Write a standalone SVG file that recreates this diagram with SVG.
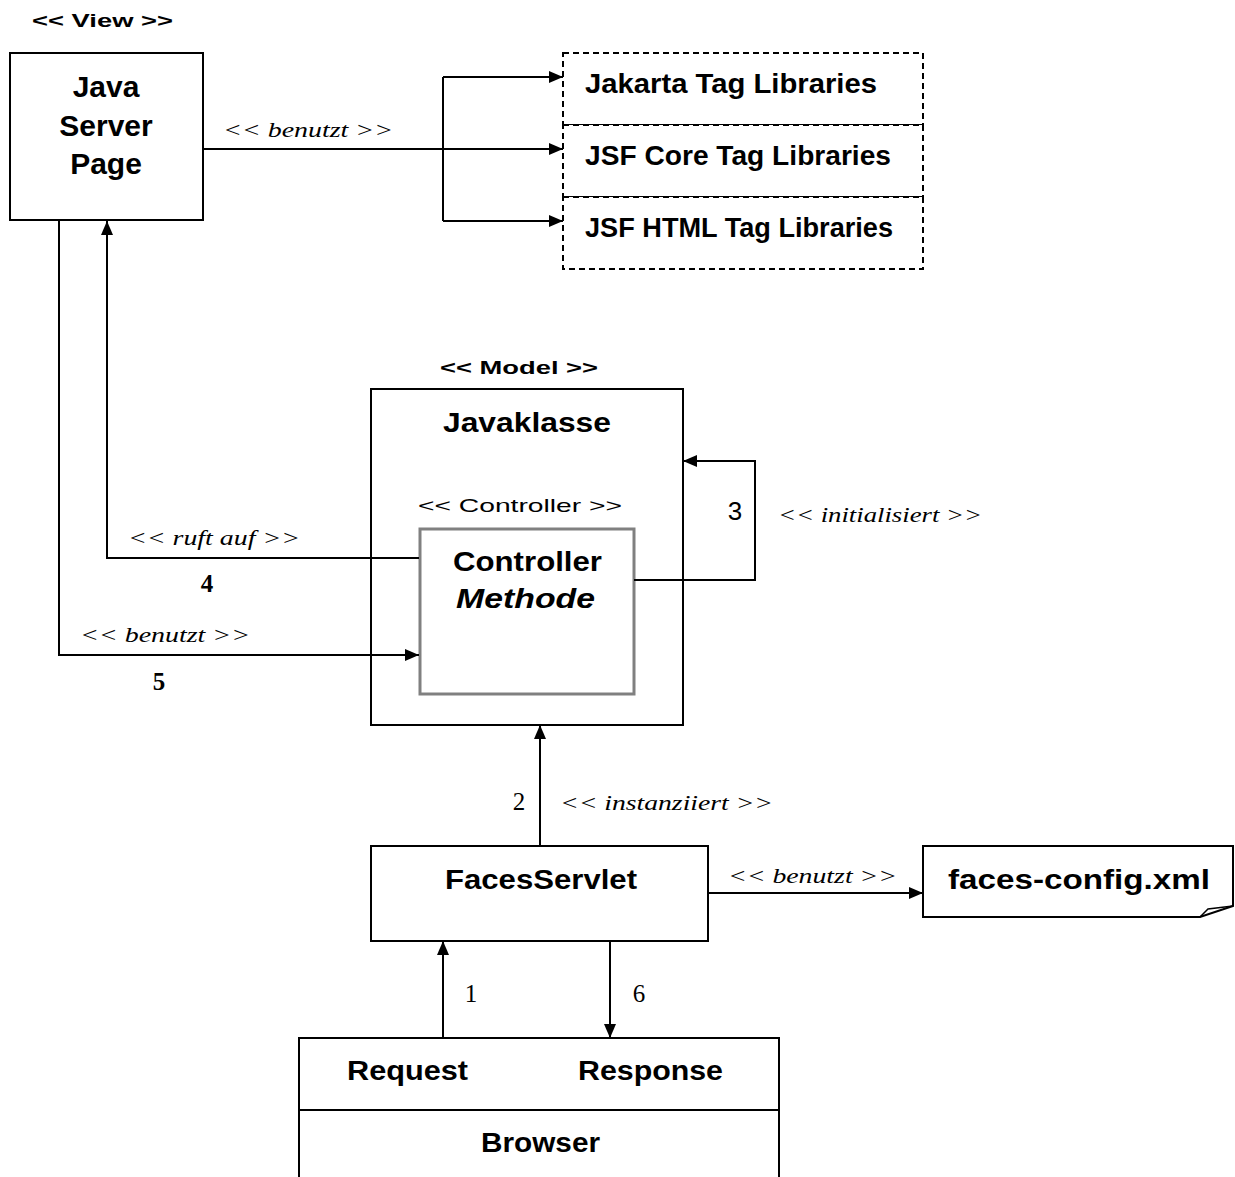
<svg xmlns="http://www.w3.org/2000/svg" width="1235" height="1177" viewBox="0 0 1235 1177">
  <defs>
    <marker id="arrow" markerUnits="userSpaceOnUse" markerWidth="14" markerHeight="12" refX="14" refY="6" orient="auto">
      <path d="M0,0 L14,6 L0,12 z" fill="#000"/>
    </marker>
  </defs>
  <style>
    .box { fill: #fff; stroke: #000; stroke-width: 2; }
    .dash { fill: #fff; stroke: #000; stroke-width: 2; stroke-dasharray: 6 4; }
    .inner { fill: #fff; stroke: #808080; stroke-width: 3; }
    .conn { fill: none; stroke: #000; stroke-width: 2; }
    .title { font-family: "Liberation Sans", Arial, sans-serif; font-weight: bold; font-size: 27px; fill: #000; }
    .big { font-size: 30px; }
    .stereo { font-family: "Liberation Sans", Arial, sans-serif; font-size: 19px; fill: #000; }
    .label { font-family: "Liberation Serif", "Times New Roman", serif; font-style: italic; font-size: 22px; fill: #000; }
    .num { font-family: "Liberation Serif", "Times New Roman", serif; font-weight: bold; font-size: 25px; fill: #000; }
    .plain { font-weight: normal; }
  </style>
  <rect width="1235" height="1177" fill="#fff"/>

  <!-- view: JSP -->
  <g id="jsp">
    <text class="stereo" x="32" y="27" font-weight="bold" textLength="141" lengthAdjust="spacingAndGlyphs">&lt;&lt; View &gt;&gt;</text>
    <rect class="box" x="10" y="53" width="193" height="167"/>
    <text class="title big" x="106" y="97" text-anchor="middle">Java</text>
    <text class="title big" x="106" y="136" text-anchor="middle">Server</text>
    <text class="title big" x="106" y="174" text-anchor="middle">Page</text>
  </g>

  <!-- tag libraries -->
  <g id="jakarta-taglib">
    <rect class="dash" x="563" y="53" width="360" height="72"/>
    <text class="title" x="585" y="93" textLength="292" lengthAdjust="spacingAndGlyphs">Jakarta Tag Libraries</text>
  </g>
  <g id="jsf-core-taglib">
    <rect class="dash" x="563" y="125" width="360" height="72"/>
    <text class="title" x="585" y="165" textLength="306" lengthAdjust="spacingAndGlyphs">JSF Core Tag Libraries</text>
  </g>
  <g id="jsf-html-taglib">
    <rect class="dash" x="563" y="197" width="360" height="72"/>
    <text class="title" x="585" y="237" textLength="308" lengthAdjust="spacingAndGlyphs">JSF HTML Tag Libraries</text>
  </g>

  <!-- model: Java class with controller method -->
  <g id="javaklasse">
    <text class="stereo" x="440" y="374" font-weight="bold" textLength="158" lengthAdjust="spacingAndGlyphs">&lt;&lt; Model &gt;&gt;</text>
    <rect class="box" x="371" y="389" width="312" height="336"/>
    <text class="title" x="443" y="432" textLength="168" lengthAdjust="spacingAndGlyphs">Javaklasse</text>
    <text class="stereo" x="418" y="512" textLength="204" lengthAdjust="spacingAndGlyphs">&lt;&lt; Controller &gt;&gt;</text>
  </g>
  <g id="controller-methode">
    <rect class="inner" x="420" y="529" width="214" height="165"/>
    <text class="title" x="453" y="571" textLength="149" lengthAdjust="spacingAndGlyphs">Controller</text>
    <text class="title" x="456" y="608" font-style="italic" textLength="139" lengthAdjust="spacingAndGlyphs">Methode</text>
  </g>

  <!-- FacesServlet -->
  <g id="faces-servlet">
    <rect class="box" x="371" y="846" width="337" height="95"/>
    <text class="title" x="445" y="889" textLength="192" lengthAdjust="spacingAndGlyphs">FacesServlet</text>
  </g>

  <!-- configuration file -->
  <g id="faces-config">
    <path class="box" d="M923,846 H1233 V906 L1200,917 H923 Z"/>
    <path d="M1200,917 L1208,909 L1233,906" fill="none" stroke="#000" stroke-width="1.5"/>
    <text class="title" x="948" y="889" textLength="262" lengthAdjust="spacingAndGlyphs">faces-config.xml</text>
  </g>

  <!-- Browser -->
  <g id="browser">
    <rect class="box" x="299" y="1038" width="480" height="150"/>
    <path class="conn" d="M299,1110 H779"/>
    <text class="title" x="347" y="1080" textLength="121" lengthAdjust="spacingAndGlyphs">Request</text>
    <text class="title" x="578" y="1080" textLength="145" lengthAdjust="spacingAndGlyphs">Response</text>
    <text class="title" x="481" y="1152" textLength="119" lengthAdjust="spacingAndGlyphs">Browser</text>
  </g>

  <!-- connectors -->
  <g id="connectors">
    <path class="conn" d="M203,149 H443"/>
    <path class="conn" d="M443,77 V221"/>
    <path class="conn" d="M443,77 H563" marker-end="url(#arrow)"/>
    <path class="conn" d="M443,149 H563" marker-end="url(#arrow)"/>
    <path class="conn" d="M443,221 H563" marker-end="url(#arrow)"/>
    <path class="conn" d="M419,558 H107 V221" marker-end="url(#arrow)"/>
    <path class="conn" d="M59,221 V655 H419" marker-end="url(#arrow)"/>
    <path class="conn" d="M634,580 H755 V461 H683" marker-end="url(#arrow)"/>
    <path class="conn" d="M540,846 V725" marker-end="url(#arrow)"/>
    <path class="conn" d="M708,893 H923" marker-end="url(#arrow)"/>
    <path class="conn" d="M443,1038 V941" marker-end="url(#arrow)"/>
    <path class="conn" d="M610,941 V1038" marker-end="url(#arrow)"/>

    <text class="label" x="223" y="137" textLength="170" lengthAdjust="spacingAndGlyphs">&lt;&lt; benutzt &gt;&gt;</text>
    <text class="label" x="128" y="545" textLength="172" lengthAdjust="spacingAndGlyphs">&lt;&lt; ruft auf &gt;&gt;</text>
    <text class="num" x="207" y="592" text-anchor="middle">4</text>
    <text class="label" x="80" y="642" textLength="170" lengthAdjust="spacingAndGlyphs">&lt;&lt; benutzt &gt;&gt;</text>
    <text class="num" x="159" y="690" text-anchor="middle">5</text>
    <text class="stereo" x="735" y="520" text-anchor="middle" style="font-size:26px">3</text>
    <text class="label" x="778" y="522" textLength="204" lengthAdjust="spacingAndGlyphs">&lt;&lt; initialisiert &gt;&gt;</text>
    <text class="num plain" x="519" y="810" text-anchor="middle">2</text>
    <text class="label" x="560" y="810" textLength="213" lengthAdjust="spacingAndGlyphs">&lt;&lt; instanziiert &gt;&gt;</text>
    <text class="label" x="728" y="883" textLength="169" lengthAdjust="spacingAndGlyphs">&lt;&lt; benutzt &gt;&gt;</text>
    <text class="num plain" x="471" y="1002" text-anchor="middle">1</text>
    <text class="num plain" x="639" y="1002" text-anchor="middle">6</text>
  </g>
</svg>
